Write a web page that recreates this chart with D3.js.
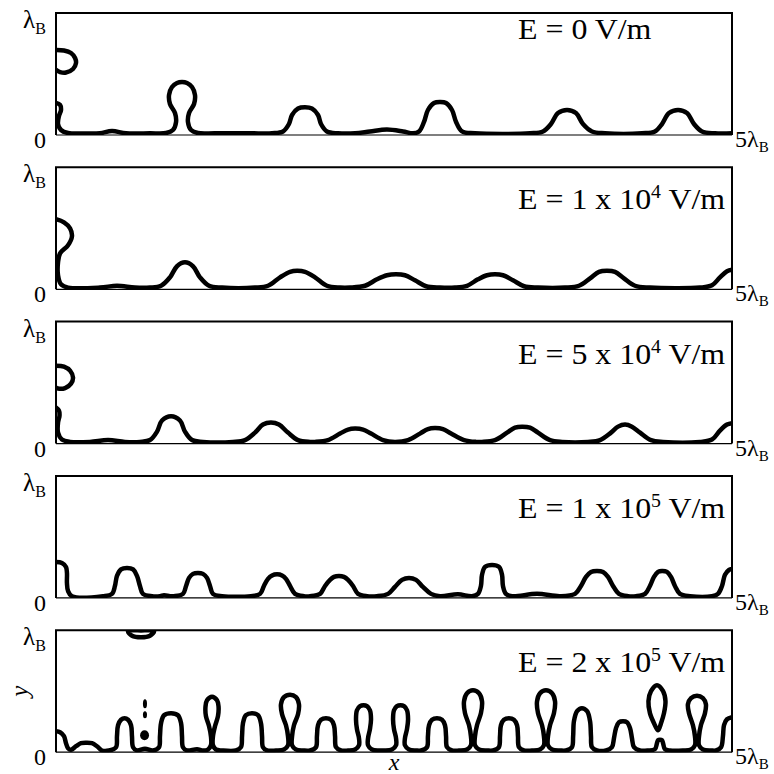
<!DOCTYPE html>
<html>
<head>
<meta charset="utf-8">
<script src="https://cdn.jsdelivr.net/npm/d3@7"></script>
<style>
  body { margin: 0; background: #fff; }
  text { font-family: "Liberation Serif", "Times New Roman", serif; fill: #000; }
</style>
</head>
<body>
<svg id="chart" width="774" height="774"></svg>
<script>
// Domain of each panel, in units of the Bjerknes wavelength λB
const xExtent = [0, 5];
const yExtent = [0, 1];

// Applied field for each panel: mantissa and power of ten (V/m)
const fieldMantissa = [0, 1, 5, 1, 2];
const fieldExponent = [null, 4, 4, 5, 5];

// Axis tick labels
const yTickLabels = [{ main: "0", sub: "" }, { main: "λ", sub: "B" }];
const xEndLabel = { main: "5λ", sub: "B" };
const axisNames = ["x", "y"];

// Interface positions [x/λB, y/λB], E = 0 V/m
const interfaceE0 = [
  [0,.262],[.030,.246],[.037,.205],[.022,.156],[.015,.090],[.037,.041],[.089,.016],[.214,.012],
  [.325,.014],[.414,.033],[.518,.014],[.695,.014],[.814,.016],[.865,.041],[.888,.107],[.880,.180],
  [.843,.254],[.836,.328],[.858,.393],[.895,.426],[.932,.434],[.969,.426],[1.006,.393],[1.028,.328],
  [1.021,.254],[.984,.180],[.976,.107],[.999,.041],[1.050,.016],[1.176,.014],[1.435,.014],[1.598,.014],
  [1.679,.029],[1.723,.090],[1.746,.164],[1.790,.217],[1.842,.227],[1.893,.217],[1.938,.164],[1.960,.090],
  [2.004,.029],[2.086,.014],[2.212,.014],[2.322,.029],[2.448,.045],[2.567,.029],[2.641,.014],[2.685,.029],
  [2.722,.107],[2.751,.205],[2.796,.262],[2.840,.270],[2.885,.262],[2.929,.205],[2.959,.107],[3.003,.029],
  [3.099,.014],[3.506,.014],[3.602,.029],[3.661,.090],[3.713,.180],[3.780,.205],[3.846,.180],[3.898,.090],
  [3.964,.029],[4.061,.014],[4.334,.014],[4.430,.029],[4.482,.090],[4.534,.180],[4.601,.205],[4.667,.180],
  [4.719,.090],[4.778,.029],[4.874,.014],[5.0,.014]
];
const wallDropE0 = [
  [0,.697],[.059,.693],[.111,.672],[.141,.631],[.148,.590],[.126,.541],[.074,.512],[.030,.516],[0,.533]
];

// E = 1 x 10^4 V/m
const interfaceE1e4 = [
  [0,.574],[.059,.549],[.104,.500],[.118,.434],[.089,.361],[.030,.295],[.015,.221],[.015,.115],
  [.037,.041],[.089,.014],[.325,.014],[.451,.029],[.584,.014],[.695,.014],[.777,.029],[.843,.098],
  [.895,.189],[.954,.221],[1.013,.189],[1.065,.098],[1.132,.029],[1.228,.014],[1.472,.014],[1.568,.029],
  [1.657,.098],[1.731,.143],[1.783,.152],[1.842,.143],[1.916,.098],[2.004,.029],[2.101,.014],[2.175,.014],
  [2.286,.029],[2.374,.082],[2.448,.115],[2.515,.123],[2.581,.115],[2.655,.074],[2.737,.025],[2.840,.014],
  [2.951,.014],[3.040,.029],[3.121,.082],[3.188,.115],[3.247,.123],[3.306,.115],[3.380,.074],[3.462,.025],
  [3.565,.014],[3.765,.014],[3.868,.029],[3.950,.090],[4.016,.143],[4.075,.152],[4.135,.143],[4.201,.090],
  [4.283,.029],[4.393,.014],[4.763,.014],[4.852,.033],[4.911,.098],[4.963,.148],[5.0,.160]
];

// E = 5 x 10^4 V/m
const interfaceE5e4 = [
  [0,.295],[.022,.270],[.026,.230],[.015,.172],[.015,.090],[.044,.033],[.104,.014],[.251,.014],
  [.385,.029],[.510,.014],[.621,.014],[.695,.029],[.747,.098],[.784,.189],[.851,.225],[.917,.189],
  [.954,.098],[1.006,.029],[1.087,.014],[1.309,.014],[1.398,.029],[1.472,.090],[1.531,.156],[1.590,.172],
  [1.649,.156],[1.716,.090],[1.790,.029],[1.879,.014],[1.916,.014],[2.012,.029],[2.101,.082],[2.160,.115],
  [2.212,.123],[2.271,.115],[2.330,.082],[2.419,.029],[2.507,.014],[2.604,.029],[2.692,.082],[2.751,.119],
  [2.803,.127],[2.862,.119],[2.922,.082],[3.018,.029],[3.107,.014],[3.151,.014],[3.247,.029],[3.336,.090],
  [3.395,.131],[3.447,.139],[3.506,.131],[3.565,.090],[3.654,.029],[3.743,.014],[3.935,.014],[4.024,.029],
  [4.105,.090],[4.157,.139],[4.209,.156],[4.260,.139],[4.320,.090],[4.401,.029],[4.490,.014],[4.763,.014],
  [4.852,.033],[4.911,.107],[4.963,.156],[5.0,.168]
];
const wallDropE5e4 = [
  [0,.639],[.059,.631],[.104,.598],[.126,.541],[.111,.492],[.067,.455],[.015,.451],[0,.459]
];

// E = 1 x 10^5 V/m
const interfaceE1e5 = [
  [0,.295],[.044,.287],[.074,.254],[.081,.205],[.081,.123],[.089,.057],[.118,.014],[.348,.014],
  [.414,.033],[.436,.098],[.451,.180],[.481,.234],[.525,.246],[.570,.234],[.599,.180],[.621,.098],
  [.643,.033],[.710,.014],[.769,.014],[.799,.021],[.843,.014],[.873,.014],[.939,.033],[.962,.098],
  [.984,.164],[1.013,.197],[1.050,.205],[1.087,.197],[1.117,.164],[1.139,.098],[1.161,.033],[1.228,.014],
  [1.442,.014],[1.509,.033],[1.538,.098],[1.568,.156],[1.598,.184],[1.635,.193],[1.672,.184],[1.701,.156],
  [1.731,.098],[1.768,.033],[1.834,.014],[1.879,.014],[1.953,.033],[1.990,.098],[2.027,.148],[2.056,.172],
  [2.093,.180],[2.130,.172],[2.160,.148],[2.197,.098],[2.234,.033],[2.300,.014],[2.374,.014],[2.456,.033],
  [2.507,.090],[2.559,.148],[2.611,.164],[2.663,.148],[2.714,.090],[2.774,.033],[2.840,.014],[2.973,.029],
  [3.077,.014],[3.121,.033],[3.143,.098],[3.151,.189],[3.173,.254],[3.225,.270],[3.277,.254],[3.299,.189],
  [3.306,.098],[3.328,.033],[3.373,.014],[3.558,.033],[3.728,.014],[3.839,.033],[3.883,.098],[3.920,.172],
  [3.957,.213],[4.001,.221],[4.046,.213],[4.083,.172],[4.120,.098],[4.164,.033],[4.231,.014],[4.290,.014],
  [4.357,.033],[4.393,.098],[4.423,.172],[4.453,.213],[4.482,.221],[4.519,.213],[4.549,.172],[4.578,.098],
  [4.615,.033],[4.689,.014],[4.852,.014],[4.896,.033],[4.926,.098],[4.948,.189],[4.978,.230],[5.0,.238]
];

// E = 2 x 10^5 V/m
const interfaceE2e5 = [
  [0,.172],[.030,.164],[.059,.131],[.074,.074],[.089,.033],[.111,.020],[.148,.049],[.185,.074],
  [.222,.078],[.266,.074],[.303,.049],[.340,.014],[.392,.014],[.444,.041],[.451,.131],[.459,.221],
  [.481,.266],[.507,.279],[.533,.266],[.555,.221],[.562,.131],[.570,.041],[.599,.014],[.658,.029],
  [.717,.014],[.762,.041],[.769,.131],[.777,.238],[.799,.303],[.851,.320],[.902,.303],[.925,.238],
  [.932,.131],[.939,.041],[.969,.014],[1.043,.025],[1.087,.014],[1.124,.022],[1.146,.057],[1.146,.131],
  [1.132,.213],[1.109,.295],[1.106,.377],[1.117,.426],[1.154,.455],[1.191,.426],[1.202,.377],[1.198,.295],
  [1.176,.213],[1.161,.131],[1.161,.057],[1.183,.022],[1.228,.014],[1.331,.014],[1.368,.041],[1.376,.131],
  [1.383,.238],[1.405,.303],[1.450,.320],[1.494,.303],[1.516,.238],[1.524,.131],[1.531,.041],[1.561,.014],
  [1.627,.014],[1.686,.022],[1.716,.057],[1.716,.131],[1.701,.221],[1.672,.311],[1.664,.393],[1.686,.451],
  [1.731,.471],[1.775,.451],[1.797,.393],[1.790,.311],[1.760,.221],[1.746,.131],[1.746,.057],[1.775,.022],
  [1.827,.014],[1.879,.014],[1.923,.041],[1.930,.131],[1.938,.221],[1.960,.266],[1.997,.279],[2.034,.266],
  [2.056,.221],[2.064,.131],[2.071,.041],[2.108,.014],[2.160,.014],[2.212,.022],[2.241,.057],[2.241,.115],
  [2.226,.189],[2.219,.270],[2.226,.344],[2.249,.377],[2.275,.385],[2.300,.377],[2.322,.344],[2.330,.270],
  [2.322,.189],[2.308,.115],[2.308,.057],[2.337,.022],[2.389,.014],[2.426,.014],[2.485,.022],[2.515,.057],
  [2.515,.115],[2.500,.189],[2.493,.270],[2.500,.344],[2.522,.377],[2.548,.385],[2.574,.377],[2.596,.344],
  [2.604,.270],[2.596,.189],[2.581,.115],[2.581,.057],[2.611,.022],[2.663,.014],[2.700,.014],[2.744,.041],
  [2.751,.131],[2.759,.221],[2.781,.266],[2.818,.279],[2.855,.266],[2.877,.221],[2.885,.131],[2.892,.041],
  [2.929,.014],[2.981,.014],[3.040,.022],[3.069,.057],[3.069,.131],[3.055,.221],[3.025,.320],[3.018,.418],
  [3.040,.484],[3.084,.508],[3.129,.484],[3.151,.418],[3.143,.320],[3.114,.221],[3.099,.131],[3.099,.057],
  [3.129,.022],[3.188,.014],[3.232,.014],[3.276,.041],[3.284,.131],[3.291,.221],[3.313,.266],[3.350,.279],
  [3.387,.266],[3.410,.221],[3.417,.131],[3.424,.041],[3.461,.014],[3.520,.014],[3.580,.022],[3.609,.057],
  [3.609,.131],[3.595,.221],[3.565,.320],[3.558,.418],[3.580,.484],[3.624,.508],[3.669,.484],[3.691,.418],
  [3.683,.320],[3.654,.221],[3.639,.131],[3.639,.057],[3.669,.022],[3.728,.014],[3.772,.014],[3.816,.041],
  [3.825,.131],[3.831,.254],[3.854,.336],[3.890,.361],[3.928,.336],[3.950,.254],[3.957,.131],[3.964,.041],
  [4.001,.014],[4.068,.014],[4.112,.041],[4.127,.115],[4.142,.197],[4.164,.246],[4.194,.254],[4.223,.246],
  [4.246,.197],[4.260,.115],[4.275,.041],[4.319,.014],[4.379,.014],[4.430,.025],[4.445,.074],[4.453,.098],
  [4.467,.102],[4.482,.098],[4.490,.074],[4.504,.025],[4.541,.014],[4.637,.014],[4.697,.022],[4.726,.057],
  [4.726,.131],[4.711,.221],[4.682,.320],[4.674,.393],[4.697,.443],[4.741,.463],[4.785,.443],[4.807,.393],
  [4.800,.320],[4.770,.221],[4.756,.131],[4.756,.057],[4.785,.022],[4.845,.014],[4.882,.014],[4.919,.041],
  [4.933,.131],[4.941,.221],[4.963,.270],[5.0,.287]
];
// Detached drops (closed outlines), E = 2 x 10^5 V/m
const ceilingDropE2e5 = [
  [.533,.992],[.562,.955],[.629,.943],[.695,.955],[.725,.992],[.629,.998]
];
const pinchedDropE2e5 = [
  [4.453,.180],[4.423,.238],[4.393,.320],[4.382,.418],[4.401,.500],[4.445,.549],[4.490,.500],
  [4.508,.418],[4.497,.320],[4.475,.238]
];
// Satellite droplets: centre x, centre y, semi-axes rx, ry (λB)
const satellitesE2e5 = [
  [.658,.398,.015,.037],[.658,.307,.015,.029],[.655,.139,.033,.041]
];

const panels = [
  { mant: fieldMantissa[0], exp: fieldExponent[0], open: [interfaceE0, wallDropE0], closed: [], dots: [] },
  { mant: fieldMantissa[1], exp: fieldExponent[1], open: [interfaceE1e4], closed: [], dots: [] },
  { mant: fieldMantissa[2], exp: fieldExponent[2], open: [interfaceE5e4, wallDropE5e4], closed: [], dots: [] },
  { mant: fieldMantissa[3], exp: fieldExponent[3], open: [interfaceE1e5], closed: [], dots: [] },
  { mant: fieldMantissa[4], exp: fieldExponent[4], open: [interfaceE2e5], closed: [ceilingDropE2e5, pinchedDropE2e5], dots: satellitesE2e5 }
];

const svg = d3.select("#chart");
const left = 56, right = 732, firstTop = 13, plotH = 122, step = 154.3;
const x = d3.scaleLinear().domain(xExtent).range([left, right]);
const lineW = 4.5;
const textStretch = 1.1;   // serif labels are set slightly wide

panels.forEach((p, i) => {
  const top = firstTop + i * step;
  const y = d3.scaleLinear().domain(yExtent).range([top + plotH, top]);
  const g = svg.append("g").attr("class", "panel");

  const clipId = "clip-" + i;
  svg.append("defs").append("clipPath").attr("id", clipId)
    .append("rect")
    .attr("x", x(xExtent[0])).attr("y", y(yExtent[1]))
    .attr("width", x(xExtent[1]) - x(xExtent[0]))
    .attr("height", y(yExtent[0]) - y(yExtent[1]));

  // thin baseline (substrate)
  g.append("line")
    .attr("x1", x(xExtent[0])).attr("x2", x(xExtent[1]))
    .attr("y1", y(0)).attr("y2", y(0))
    .attr("stroke", "#000").attr("stroke-width", 1.2);

  const plot = g.append("g").attr("clip-path", `url(#${clipId})`);
  const openLine = d3.line().x(d => x(d[0])).y(d => y(d[1])).curve(d3.curveCatmullRom.alpha(0.5));
  const closedLine = d3.line().x(d => x(d[0])).y(d => y(d[1])).curve(d3.curveCatmullRomClosed.alpha(0.5));

  plot.selectAll("path.open").data(p.open).join("path")
    .attr("class", "open")
    .attr("d", openLine)
    .attr("fill", "none").attr("stroke", "#000")
    .attr("stroke-width", lineW).attr("stroke-linejoin", "round").attr("stroke-linecap", "round");

  plot.selectAll("path.closed").data(p.closed).join("path")
    .attr("class", "closed")
    .attr("d", closedLine)
    .attr("fill", "none").attr("stroke", "#000")
    .attr("stroke-width", lineW).attr("stroke-linejoin", "round");

  plot.selectAll("ellipse").data(p.dots).join("ellipse")
    .attr("cx", d => x(d[0])).attr("cy", d => y(d[1]))
    .attr("rx", d => x(d[2]) - x(0)).attr("ry", d => y(0) - y(d[3]))
    .attr("fill", "#000");

  // frame: top, left and right sides
  g.append("path")
    .attr("d", `M${x(xExtent[0])},${y(0)}V${y(yExtent[1])}H${x(xExtent[1])}V${y(0)}`)
    .attr("fill", "none").attr("stroke", "#000").attr("stroke-width", 2);

  // y tick labels: 0 at the bottom, λB at the top
  g.append("text")
    .attr("x", 40).attr("y", y(0) + 13)
    .attr("text-anchor", "middle").attr("font-size", 24)
    .text(yTickLabels[0].main);
  const lt = g.append("text").attr("x", 23).attr("y", y(1) + 15).attr("font-size", 25);
  lt.append("tspan").text(yTickLabels[1].main);
  lt.append("tspan").attr("dy", 6).attr("font-size", 16).text(yTickLabels[1].sub);

  // right end of the x range
  const rt = g.append("text").attr("x", x(xExtent[1]) + 3).attr("y", y(0) + 12).attr("font-size", 24);
  rt.append("tspan").text(xEndLabel.main);
  rt.append("tspan").attr("dy", 5).attr("font-size", 15).text(xEndLabel.sub);

  // field strength label
  const et = g.append("text")
    .attr("transform", `translate(518, ${i === 0 ? top + 26 : top + 42}) scale(${textStretch}, 1)`)
    .attr("font-size", 29);
  if (p.exp === null) {
    et.text(`E = ${p.mant} V/m`);
  } else {
    et.append("tspan").text(`E = ${p.mant} x 10`);
    et.append("tspan").attr("dy", -11).attr("font-size", 18).text(p.exp);
    et.append("tspan").attr("dy", 11).text(" V/m");
  }

  if (i === panels.length - 1) {
    g.append("text")
      .attr("x", (x(xExtent[0]) + x(xExtent[1])) / 2).attr("y", y(0) + 18)
      .attr("text-anchor", "middle").attr("font-size", 24).attr("font-style", "italic")
      .text(axisNames[0]);
    g.append("text")
      .attr("transform", `translate(28, ${y(0.5)}) rotate(-90)`)
      .attr("text-anchor", "middle").attr("font-size", 25).attr("font-style", "italic")
      .text(axisNames[1]);
  }
});
</script>
</body>
</html>
